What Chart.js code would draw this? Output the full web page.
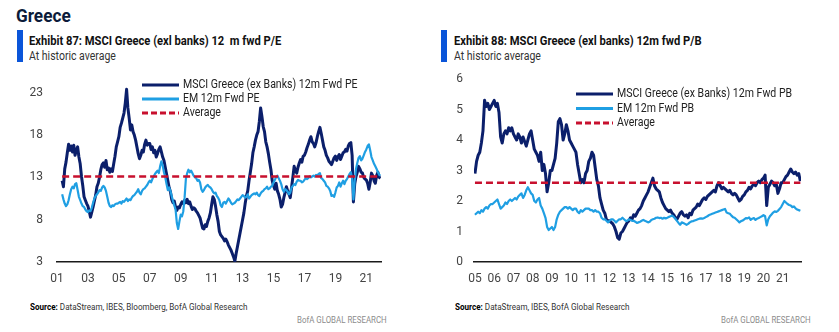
<!DOCTYPE html>
<html>
<head>
<meta charset="utf-8">
<script src="https://cdn.jsdelivr.net/npm/chart.js@4.4.0/dist/chart.umd.min.js"></script>
<style>
  body { margin: 0; background: #fff; width: 839px; height: 332px; overflow: hidden; position: relative;
         font-family: Roboto, "Noto Sans", sans-serif; color: #1a1a1a; }
  .abs { position: absolute; white-space: nowrap; transform-origin: 0 0; }
  .region { left: 16px; top: 5px; font-size: 18.5px; font-weight: bold; color: #0c1b3a; transform: scaleX(0.93); }
  .bar { position: absolute; width: 6px; height: 32px; background: #0a55d9; }
  .title { font-size: 13px; font-weight: bold; color: #111; transform: scaleX(0.86); }
  .sub { font-size: 12.5px; color: #333; transform: scaleX(0.84); }
  .src { font-size: 9.3px; color: #333; transform: scaleX(0.87); }
  .src b { color: #000; }
  .brand { font-size: 9.3px; color: #8c8c8c; transform: scaleX(0.85); }
  canvas { position: absolute; top: 70px; }
</style>
</head>
<body>
<div class="abs region">Greece</div>

<div class="bar" style="left:17px; top:30px;"></div>
<div class="abs title" style="left:29px; top:33px;">Exhibit 87: MSCI Greece (exl banks) 12&nbsp; m fwd P/E</div>
<div class="abs sub" style="left:29px; top:48px;">At historic average</div>

<div class="bar" style="left:441px; top:30px;"></div>
<div class="abs title" style="left:454px; top:33px;">Exhibit 88: MSCI Greece (exl banks) 12m fwd P/B</div>
<div class="abs sub" style="left:454px; top:48px;">At historic average</div>

<canvas id="peChart" width="420" height="222" style="left:0px;"></canvas>
<canvas id="pbChart" width="419" height="222" style="left:420px;"></canvas>

<div class="abs src" style="left:30px; top:301px;"><b>Source:</b> DataStream, IBES, Bloomberg, BofA Global Research</div>
<div class="abs brand" style="left:297px; top:314px;">BofA GLOBAL RESEARCH</div>
<div class="abs src" style="left:455px; top:301px;"><b>Source:</b> DataStream, IBES, BofA Global Research</div>
<div class="abs brand" style="left:721px; top:314px;">BofA GLOBAL RESEARCH</div>

<script>
// 12m forward P/E, monthly, first value = May 2001
const peStart = [2001, 4];
const greecePE = [
  12.6, 11.9, 14.0, 14.8, 15.9, 16.9, 16.2, 16.7,
  16.0, 16.8, 15.6, 16.2, 16.6, 15.4, 14.6, 13.1, 12.0, 10.7, 10.3, 9.9,
  9.6, 9.0, 8.3, 8.9, 9.5, 10.2, 10.9, 11.9, 12.3, 13.0, 13.9, 14.5,
  14.7, 14.2, 15.0, 13.9, 14.1, 13.6, 14.0, 13.7, 14.6, 15.5, 16.6, 17.2,
  17.8, 18.9, 19.4, 20.0, 20.6, 21.8, 23.4, 21.2, 20.0, 18.6, 19.2, 18.4,
  18.0, 17.4, 16.6, 15.8, 15.2, 15.6, 16.2, 16.0, 16.9, 17.4, 16.8, 17.0,
  17.0, 16.3, 16.6, 15.9, 16.2, 15.4, 15.8, 16.3, 16.6, 16.0, 15.4, 15.0,
  14.2, 13.4, 12.6, 11.8, 11.3, 10.4, 10.0, 10.2, 9.5, 9.1, 9.5, 9.4,
  9.8, 10.1, 9.9, 10.3, 10.0, 10.4, 9.9, 10.1, 9.6, 9.2, 9.4, 9.3,
  9.0, 8.8, 8.5, 8.2, 7.6, 7.0, 6.9, 7.4, 7.2, 7.8, 8.2, 8.8,
  9.8, 10.7, 10.4, 9.6, 8.6, 7.8, 6.6, 6.2, 6.0, 5.8, 5.5, 5.7,
  5.4, 5.0, 4.7, 4.4, 4.0, 3.6, 3.1, 4.0, 4.8, 5.6, 6.4, 7.2,
  8.0, 8.8, 9.9, 10.8, 11.4, 12.6, 13.6, 14.6, 15.9, 16.6, 17.4, 18.0,
  18.4, 19.6, 21.2, 20.2, 19.0, 18.4, 17.2, 16.6, 15.8, 14.8, 13.9, 12.6,
  12.0, 11.6, 12.3, 11.4, 11.0, 10.4, 9.5, 9.8, 10.6, 11.2, 11.9, 11.4,
  11.0, 10.6, 11.8, 13.0, 14.3, 13.8, 13.5, 14.2, 14.7, 15.1, 14.8, 15.5,
  15.6, 16.0, 16.5, 16.9, 17.4, 17.8, 17.2, 17.0, 16.6, 17.1, 17.8, 18.4,
  18.9, 18.2, 17.4, 16.6, 16.2, 15.6, 15.3, 14.9, 14.7, 14.5, 14.9, 15.3,
  15.5, 15.0, 15.4, 15.7, 15.1, 15.5, 15.9, 16.0, 16.3, 16.1, 16.7, 17.0,
  17.1, 15.6, 10.1, 12.2, 13.1, 13.6, 14.3, 14.0, 13.6, 13.5, 13.0, 12.8,
  12.7, 12.3, 11.6, 12.4, 13.5, 13.2, 12.6, 12.3, 13.2, 13.6, 13.0, 12.9
];
const emPE = [
  11.0, 10.4, 9.9, 9.6, 9.8, 10.3, 11.0, 11.6,
  11.9, 11.7, 12.2, 12.3, 11.5, 10.7, 10.3, 9.9, 9.6, 9.5, 9.2, 9.0,
  8.9, 9.1, 9.0, 9.4, 10.0, 10.5, 10.8, 11.0, 11.2, 11.5, 11.4, 11.8,
  12.0, 11.8, 11.4, 10.7, 10.0, 9.6, 9.5, 9.7, 9.6, 9.8, 9.9, 9.9,
  10.0, 10.1, 9.9, 10.2, 10.1, 10.3, 10.5, 10.2, 10.4, 10.3, 10.6, 10.8,
  10.9, 11.1, 11.3, 11.6, 11.2, 11.0, 11.4, 11.6, 11.7, 11.9, 12.1, 12.4,
  12.6, 12.4, 12.8, 13.1, 13.4, 13.6, 13.8, 13.5, 14.3, 14.9, 14.4, 13.6,
  13.0, 12.2, 11.5, 11.8, 11.4, 10.8, 10.2, 9.7, 9.2, 7.6, 6.9, 7.8,
  8.6, 8.4, 9.0, 10.6, 12.8, 13.5, 13.9, 13.6, 13.8, 13.5, 13.2, 13.0,
  12.9, 12.6, 12.7, 12.4, 11.6, 11.3, 11.5, 11.8, 12.0, 12.1, 11.9, 11.8,
  11.6, 11.3, 11.1, 11.2, 10.8, 10.6, 10.3, 9.7, 9.5, 10.0, 10.1, 9.9,
  10.2, 10.5, 10.3, 10.0, 9.8, 9.9, 10.0, 10.2, 10.4, 10.3, 10.5, 10.7,
  10.9, 10.8, 10.6, 10.7, 11.0, 10.5, 10.7, 10.9, 11.0, 11.1, 11.0, 11.2,
  10.9, 10.8, 11.1, 11.3, 11.4, 11.6, 11.7, 11.9, 11.6, 11.7, 11.9, 12.0,
  12.4, 12.7, 13.0, 13.2, 12.9, 12.6, 12.2, 11.6, 11.3, 11.6, 11.5, 11.3,
  11.0, 11.2, 11.8, 12.0, 12.2, 12.1, 12.5, 12.7, 12.6, 12.6, 12.4, 12.5,
  12.7, 12.9, 12.8, 12.9, 13.1, 13.0, 13.1, 13.2, 13.1, 13.3, 13.2, 13.4,
  13.5, 12.9, 12.8, 12.6, 12.4, 12.0, 11.9, 11.7, 11.4, 10.8, 10.9, 10.7,
  11.2, 11.8, 12.0, 12.4, 11.9, 12.3, 12.6, 12.2, 12.6, 12.8, 13.1, 13.4,
  13.6, 12.8, 10.4, 12.6, 14.0, 14.7, 15.3, 15.5, 15.0, 15.2, 15.6, 16.0,
  16.3, 16.7, 16.9, 16.2, 15.4, 15.0, 14.6, 14.3, 14.0, 13.6, 13.3, 13.2
];
const avgPE = 13.1;
const peYTicks = [3, 8, 13, 18, 23];
const peXTicks = [2001, 2003, 2005, 2007, 2009, 2011, 2013, 2015, 2017, 2019, 2021];
const peLabels = ['MSCI Greece (ex Banks) 12m Fwd PE', 'EM 12m Fwd PE', 'Average'];

// 12m forward P/B, monthly, first value = Jan 2005
const pbStart = [2005, 0];
const greecePB = [
  2.9, 3.3, 3.5, 3.6, 3.9, 4.3, 5.3, 5.1, 5.2, 5.0, 5.1, 5.2,
  5.3, 5.1, 5.2, 4.9, 4.1, 3.9, 4.2, 4.3, 4.2, 4.4, 4.3, 4.4,
  4.2, 4.1, 4.0, 4.2, 4.1, 3.9, 4.1, 3.95, 3.8, 4.0, 4.2, 4.3,
  4.0, 3.7, 3.6, 3.5, 3.3, 3.6, 3.0, 3.2, 2.9, 2.3, 2.6, 3.0,
  3.0, 3.2, 3.4, 3.9, 4.6, 4.7, 4.5, 4.0, 4.2, 4.5, 4.3, 4.0,
  3.9, 3.8, 3.7, 3.6, 3.2, 2.9, 2.6, 2.7, 2.6, 2.9, 3.0, 3.3,
  3.4, 3.6, 3.5, 3.1, 2.7, 2.5, 2.1, 1.9, 1.7, 1.6, 1.4, 1.35,
  1.35, 1.3, 1.25, 1.15, 1.0, 0.8, 0.75, 0.95, 1.0, 1.1, 1.2, 1.3,
  1.35, 1.45, 1.4, 1.55, 1.5, 1.6, 1.7, 1.75, 1.85, 2.0, 2.1, 2.2,
  2.3, 2.45, 2.6, 2.75, 2.5, 2.4, 2.35, 2.3, 2.1, 1.95, 1.85, 1.75,
  1.7, 1.65, 1.7, 1.6, 1.55, 1.45, 1.4, 1.5, 1.6, 1.65, 1.55, 1.5,
  1.55, 1.45, 1.6, 1.55, 1.7, 1.75, 1.8, 1.9, 1.85, 1.95, 2.05, 2.1,
  2.05, 2.15, 2.2, 2.25, 2.3, 2.35, 2.3, 2.5, 2.6, 2.5, 2.4, 2.45,
  2.4, 2.35, 2.3, 2.35, 2.25, 2.2, 2.25, 2.2, 2.1, 2.0, 2.05, 2.15,
  2.2, 2.3, 2.35, 2.45, 2.4, 2.5, 2.55, 2.5, 2.6, 2.65, 2.6, 2.7,
  2.75, 2.85, 1.85, 2.45, 2.55, 2.65, 2.6, 2.5, 2.55, 2.25, 2.4, 2.6,
  2.6, 2.7, 2.8, 2.85, 2.95, 3.05, 2.95, 2.9, 2.95, 2.85, 2.9, 2.65
];
const emPB = [
  1.55, 1.6, 1.65, 1.6, 1.7, 1.65, 1.75, 1.8, 1.75, 1.85, 1.9, 1.9,
  1.95, 2.0, 2.05, 1.9, 1.75, 1.8, 1.85, 1.95, 1.9, 2.0, 2.05, 2.0,
  2.05, 2.1, 2.05, 2.15, 2.2, 2.25, 2.1, 2.2, 2.35, 2.45, 2.35, 2.25,
  2.2, 2.0, 1.95, 2.05, 2.1, 1.85, 1.75, 1.6, 1.45, 1.15, 1.05, 1.1,
  1.15, 1.05, 1.15, 1.4, 1.55, 1.65, 1.7, 1.75, 1.8, 1.8, 1.75, 1.8,
  1.75, 1.7, 1.75, 1.75, 1.65, 1.6, 1.7, 1.65, 1.7, 1.75, 1.75, 1.75,
  1.7, 1.7, 1.65, 1.7, 1.65, 1.65, 1.6, 1.45, 1.4, 1.4, 1.35, 1.3,
  1.35, 1.4, 1.4, 1.35, 1.3, 1.35, 1.4, 1.4, 1.45, 1.4, 1.35, 1.35,
  1.4, 1.38, 1.35, 1.35, 1.32, 1.28, 1.3, 1.32, 1.35, 1.38, 1.35, 1.33,
  1.3, 1.32, 1.38, 1.4, 1.42, 1.45, 1.46, 1.44, 1.45, 1.42, 1.45, 1.43,
  1.45, 1.48, 1.5, 1.52, 1.48, 1.42, 1.35, 1.28, 1.22, 1.3, 1.28, 1.25,
  1.22, 1.25, 1.3, 1.33, 1.34, 1.36, 1.38, 1.4, 1.42, 1.43, 1.42, 1.44,
  1.47, 1.5, 1.54, 1.56, 1.58, 1.6, 1.62, 1.64, 1.66, 1.68, 1.7, 1.72,
  1.74, 1.62, 1.6, 1.58, 1.52, 1.47, 1.45, 1.4, 1.35, 1.3, 1.34, 1.36,
  1.4, 1.44, 1.43, 1.46, 1.38, 1.42, 1.44, 1.38, 1.42, 1.44, 1.47, 1.5,
  1.54, 1.5, 1.2, 1.4, 1.5, 1.56, 1.62, 1.66, 1.64, 1.68, 1.74, 1.8,
  1.9, 2.0, 1.95, 1.9, 1.87, 1.85, 1.8, 1.82, 1.76, 1.72, 1.7, 1.68
];
const avgPB = 2.6;
const pbYTicks = [0, 1, 2, 3, 4, 5, 6];
const pbXTicks = [2005, 2006, 2007, 2008, 2009, 2010, 2011, 2012, 2013, 2014, 2015, 2016, 2017, 2018, 2019, 2020, 2021];
const pbLabels = ['MSCI Greece (ex Banks) 12m Fwd PB', 'EM 12m Fwd PB', 'Average'];

const NAVY = '#0b1f6b';
const SKY = '#1f9fe3';
const RED = '#c8102e';
const FONT = 'Roboto, "Noto Sans", sans-serif';

// monthly values -> {x: decimal year, y}
function toPoints(values, start) {
  return values.map((v, i) => ({ x: start[0] + (start[1] + i) / 12, y: v }));
}

// legend drawn inside the plot, line sample + label per dataset
const innerLegend = {
  id: 'innerLegend',
  afterDraw(chart, args, opts) {
    const ctx = chart.ctx;
    ctx.save();
    ctx.font = '12px ' + FONT;
    ctx.textBaseline = 'middle';
    chart.data.datasets.forEach((ds, i) => {
      const y = opts.y + i * opts.row;
      ctx.strokeStyle = ds.borderColor;
      ctx.lineWidth = 3;
      ctx.setLineDash(ds.borderDash ? [6, 3] : []);
      ctx.beginPath();
      ctx.moveTo(opts.x, y);
      ctx.lineTo(opts.x + 37, y);
      ctx.stroke();
      ctx.save();
      ctx.translate(opts.x + 41, y);
      ctx.scale(0.88, 1);   // narrow face
      ctx.fillStyle = '#222';
      ctx.fillText(ds.label, 0, 0);
      ctx.restore();
    });
    ctx.restore();
  }
};

function drawChart(id, cfg) {
  const first = cfg.start[0] + cfg.start[1] / 12;
  const last = cfg.start[0] + (cfg.start[1] + cfg.main.length - 1) / 12;
  const tickFont = { family: FONT, size: 12 };
  return new Chart(document.getElementById(id), {
    type: 'line',
    data: {
      datasets: [{
        label: cfg.labels[0],
        data: toPoints(cfg.main, cfg.start),
        borderColor: NAVY,
        borderWidth: 3,
        order: 2
      }, {
        label: cfg.labels[1],
        data: toPoints(cfg.em, cfg.start),
        borderColor: SKY,
        borderWidth: 2.2,
        order: 1
      }, {
        label: cfg.labels[2],
        data: [{ x: first, y: cfg.avg }, { x: last, y: cfg.avg }],
        borderColor: RED,
        borderWidth: 2.5,
        borderDash: [7, 4],
        order: 0
      }]
    },
    options: {
      responsive: false,
      maintainAspectRatio: false,
      animation: false,
      events: [],
      elements: { point: { radius: 0 }, line: { tension: 0, borderJoinStyle: 'round' } },
      layout: { padding: cfg.padding },
      plugins: {
        legend: { display: false },
        tooltip: { enabled: false },
        innerLegend: cfg.legend
      },
      scales: {
        x: {
          type: 'linear',
          min: cfg.xMin,
          max: cfg.xMax,
          afterBuildTicks: s => { s.ticks = cfg.xTicks.map(v => ({ value: v })); },
          afterFit: s => { s.height = 30; },
          grid: { display: false, drawTicks: false },
          border: { display: true, color: '#1a1a1a', width: 1.5 },
          ticks: {
            padding: 10, maxRotation: 0, autoSkip: false, color: '#444', font: tickFont,
            callback: v => String(v).slice(2)
          }
        },
        y: {
          min: cfg.yMin,
          max: cfg.yMax,
          afterBuildTicks: s => { s.ticks = cfg.yTicks.map(v => ({ value: v })); },
          // fixed gutter; drop the label overhang so layout padding alone sets the top
          afterFit: s => { s.width = cfg.yWidth; s.paddingTop = 0; s.paddingBottom = 0; },
          grid: { display: false, drawTicks: false },
          border: { display: false },
          ticks: { padding: cfg.yPad, color: '#444', font: tickFont }
        }
      }
    },
    plugins: [innerLegend]
  });
}

drawChart('peChart', {
  start: peStart, main: greecePE, em: emPE, avg: avgPE, labels: peLabels,
  xMin: 2001, xMax: 2021.95, xTicks: peXTicks,
  yMin: 3, yMax: 24.5, yTicks: peYTicks, yWidth: 57, yPad: 14,
  padding: { top: 10, right: 39, bottom: 0, left: 0 },
  legend: { x: 142, y: 15, row: 14 }
});

drawChart('pbChart', {
  start: pbStart, main: greecePB, em: emPB, avg: avgPB, labels: pbLabels,
  xMin: 2004.95, xMax: 2021.95, xTicks: pbXTicks,
  yMin: 0, yMax: 6, yTicks: pbYTicks, yWidth: 54, yPad: 11,
  padding: { top: 9, right: 38, bottom: 0, left: 0 },
  legend: { x: 156, y: 24, row: 14.5 }
});
</script>
</body>
</html>
